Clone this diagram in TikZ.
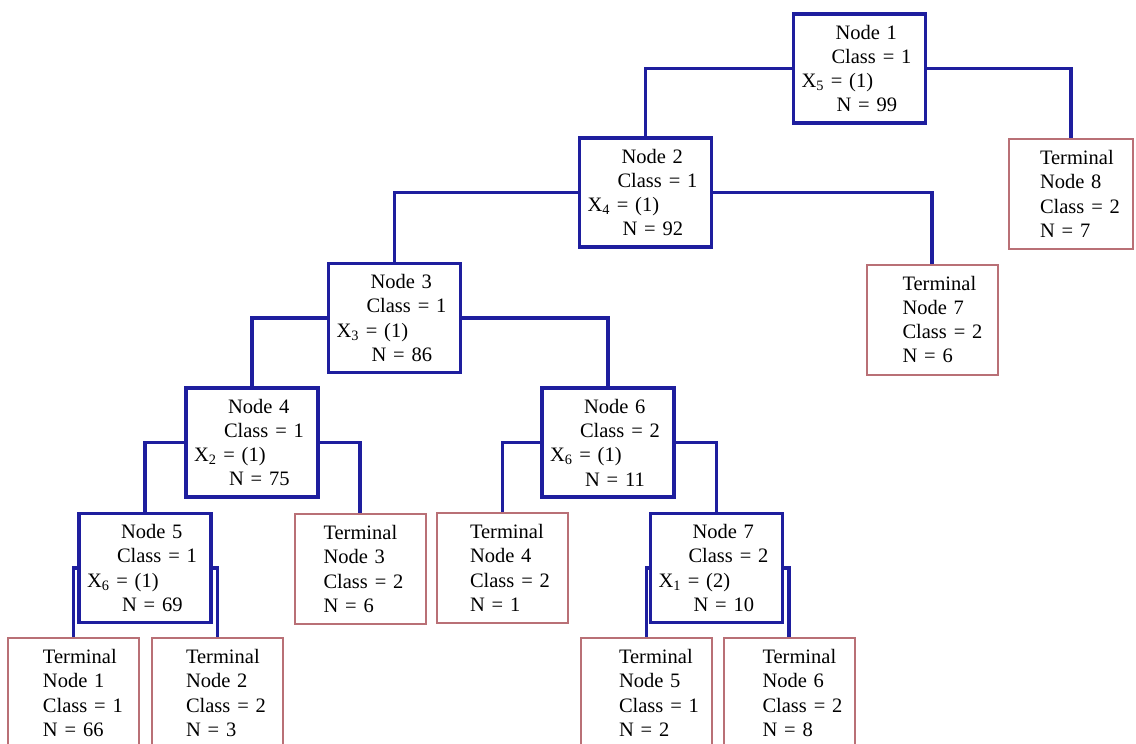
\documentclass[tikz,border=0pt]{standalone}
\usepackage{fontspec}
\setmainfont{Liberation Serif}

\definecolor{splitblue}{RGB}{30,30,158}
\definecolor{termred}{RGB}{185,112,118}

% 分裂节点与终端节点的文字
\newcommand{\splitlabel}[5]{\hspace*{42pt}Node #1\\\hspace*{38pt}Class = #2\\\hspace*{8pt}X\textsubscript{#3} = (#4)\\\hspace*{43pt}N = #5}
\newcommand{\termlabel}[4]{\hspace*{#1pt}Terminal\\\hspace*{#1pt}Node #2\\\hspace*{#1pt}Class = #3\\\hspace*{#1pt}N = #4}

\begin{document}
\begin{tikzpicture}[x=1pt,y=-1pt,
		font=\fontsize{20.5}{24.3}\selectfont,
		split/.style={rectangle, draw=splitblue, line width=3.5pt, minimum height=109pt, text width=132pt, inner xsep=0pt, align=left},
		terminal/.style={rectangle, draw=termred, line width=2pt, minimum height=110pt, text width=131pt, inner xsep=0pt, align=left},
		conn/.style={draw=splitblue, line width=3.5pt}]
		\useasboundingbox (0,0) rectangle (1136,744);
		\clip (0,0) rectangle (1136,744);
		
		% ---------------------- 分裂节点 ----------------------
		\node (n1) [split] at (859.5,68.5) {\splitlabel{1}{1}{5}{1}{99}};
		\node (n2) [split] at (645.5,192.5) {\splitlabel{2}{1}{4}{1}{92}};
		\node (n3) [split] at (394.5,318) {\splitlabel{3}{1}{3}{1}{86}};
		\node (n4) [split] at (252,442.5) {\splitlabel{4}{1}{2}{1}{75}};
		\node (n6) [split] at (608,442.5) {\splitlabel{6}{2}{6}{1}{11}};
		\node (n5) [split] at (145,568) {\splitlabel{5}{1}{6}{1}{69}};
		\node (n7) [split] at (716.5,568) {\splitlabel{7}{2}{1}{2}{10}};
		
		% ---------------------- 终端节点 ----------------------
		\node (t8) [terminal, text width=124pt] at (1071,194) {\termlabel{31}{8}{2}{7}};
		\node (t7) [terminal] at (932,319.5) {\termlabel{36}{7}{2}{6}};
		\node (t3) [terminal] at (360,569) {\termlabel{29}{3}{2}{6}};
		\node (t4) [terminal] at (502.5,568) {\termlabel{33}{4}{2}{1}};
		\node (t1) [terminal] at (73.5,693) {\termlabel{35}{1}{1}{66}};
		\node (t2) [terminal] at (217.5,693) {\termlabel{34}{2}{2}{3}};
		\node (t5) [terminal] at (646.5,693) {\termlabel{38}{5}{1}{2}};
		\node (t6) [terminal] at (789,693) {\termlabel{39}{6}{2}{8}};
		
		% 父节点左右两侧 -> 子节点顶部
		\foreach \p/\s/\c in {n1/west/n2, n1/east/t8, n2/west/n3, n2/east/t7,
			n3/west/n4, n3/east/n6, n4/west/n5, n4/east/t3, n6/west/t4, n6/east/n7,
			n5/west/t1, n5/east/t2, n7/west/t5, n7/east/t6} {
			\draw[conn] (\p.\s) -| (\c.north);
		}
	\end{tikzpicture}
\end{document}
